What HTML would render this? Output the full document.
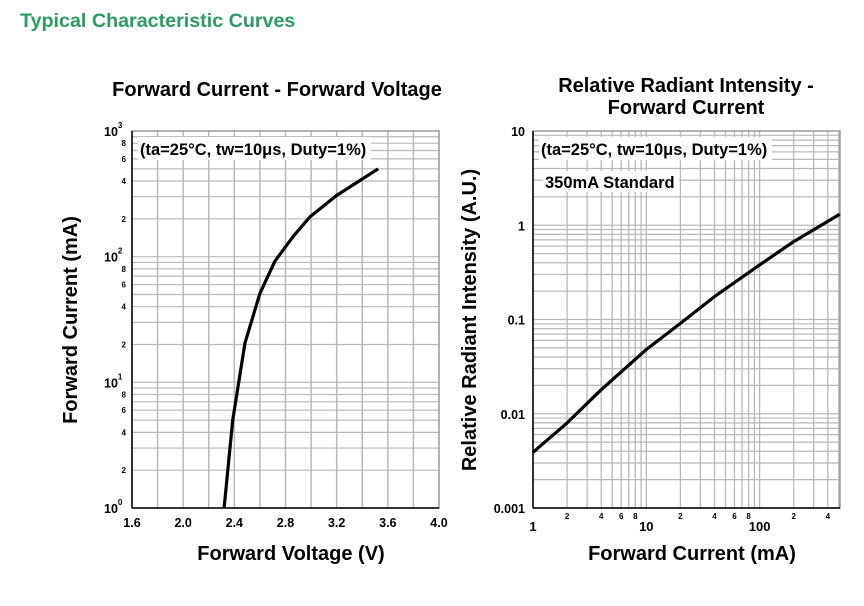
<!DOCTYPE html>
<html><head><meta charset="utf-8"><style>
body{margin:0;background:#fff;width:864px;height:601px;overflow:hidden}
svg{font-family:"Liberation Sans",Arial,sans-serif}
</style></head><body>
<svg id="s" width="864" height="601" viewBox="0 0 864 601">
<text x="20" y="27" font-size="19.7" font-weight="bold" fill="#2e9a66">Typical Characteristic Curves</text>
<text x="277" y="96" text-anchor="middle" font-size="20" font-weight="bold">Forward Current - Forward Voltage</text>
<text x="686" y="92" text-anchor="middle" font-size="20" font-weight="bold">Relative Radiant Intensity -</text>
<text x="686" y="114" text-anchor="middle" font-size="20" font-weight="bold">Forward Current</text>
<text x="291" y="560" text-anchor="middle" font-size="20" font-weight="bold">Forward Voltage (V)</text>
<text x="692" y="560" text-anchor="middle" font-size="20" font-weight="bold">Forward Current (mA)</text>
<text transform="translate(77,320) rotate(-90)" text-anchor="middle" font-size="20" font-weight="bold">Forward Current (mA)</text>
<text transform="translate(476,320) rotate(-90)" text-anchor="middle" font-size="20" font-weight="bold">Relative Radiant Intensity (A.U.)</text>
<g id="L"></g><g id="R"></g>
</svg>
<script>
// Left chart data
const vfVolts=[2.32,2.387,2.483,2.6,2.717,2.86,2.99,3.2,3.525];
const vfCurrent=[1,5.0,20.6,51,92,145,207,307,500];
const vfXTicks=[1.6,2.0,2.4,2.8,3.2,3.6,4.0];
// Right chart data
const ifCurrent=[1,2,4,10,20,40,100,200,509];
const ifIntensity=[0.0039,0.008,0.018,0.048,0.091,0.175,0.38,0.67,1.31];
const ifYTicks=["0.001","0.01","0.1","1","10"];

const NS="http://www.w3.org/2000/svg";
function mk(p,t,a){const e=document.createElementNS(NS,t);for(const k in a)e.setAttribute(k,a[k]);p.appendChild(e);return e;}
const L=document.getElementById('L'),R=document.getElementById('R');

// Left axes
const lx0=132,lx1=439,ly0=508,ly1=131;
const lX=v=>lx0+(v-1.6)/2.4*(lx1-lx0);
const lY=i=>ly0-Math.log10(i)/3*(ly0-ly1);
for(let v=1.8;v<4.0;v+=0.2){const l=mk(L,'line',{x1:lX(v),x2:lX(v),y1:ly1,y2:ly0,stroke:'#b8b8b8','stroke-width':1.5});}
for(let d=0;d<3;d++)for(let m=1;m<10;m++){if(d==0&&m==1)continue;const y=lY(m*Math.pow(10,d));const l=mk(L,'line',{x1:lx0,x2:lx1,y1:y,y2:y,stroke:'#b8b8b8','stroke-width':1.2});}
mk(L,'rect',{x:lx0,y:ly1,width:lx1-lx0,height:ly0-ly1,fill:'none',stroke:'#999','stroke-width':1.5});
mk(L,'line',{x1:lx0,x2:lx0,y1:ly1,y2:ly0,stroke:'#000','stroke-width':1.5});
mk(L,'line',{x1:lx0,x2:lx1,y1:ly0,y2:ly0,stroke:'#000','stroke-width':1.5});
vfXTicks.forEach(v=>{const t=mk(L,'text',{x:lX(v),y:527,'text-anchor':'middle','font-size':12.5,'font-weight':'bold'});t.textContent=v.toFixed(1);});
for(let d=0;d<=3;d++){const y=lY(Math.pow(10,d));const t=mk(L,'text',{x:104,y:y+5,'font-size':12.5,'font-weight':'bold'});t.textContent='10';mk(t,'tspan',{dy:-8,'font-size':8}).textContent=d;
 if(d<3)[2,4,6,8].forEach(m=>{const s=mk(L,'text',{x:126,y:lY(m*Math.pow(10,d))+3,'text-anchor':'end','font-size':8,'font-weight':'bold'});s.textContent=m;});}
mk(L,'rect',{x:138,y:137,width:233,height:23,fill:'#fff'});
const la=mk(L,'text',{x:140,y:155,'font-size':16.5,'font-weight':'bold'});la.textContent='(ta=25°C, tw=10μs, Duty=1%)';
const lp=mk(L,'path',{d:vfVolts.map((v,i)=>(i?'L':'M')+lX(v).toFixed(1)+','+lY(vfCurrent[i]).toFixed(1)).join(''),fill:'none',stroke:'#000','stroke-width':3.2,'stroke-linejoin':'round'});


// Right axes
const rx0=533,rx1=840,ry0=508,ry1=131;
const rX=i=>rx0+Math.log10(i)*113.3;
const rY=v=>ry0-(Math.log10(v)+3)/4*(ry0-ry1);
for(let d=0;d<3;d++)for(let m=1;m<10;m++){const x=rX(m*Math.pow(10,d));if(x>=rx1||(d==0&&m==1))continue;const l=mk(R,'line',{x1:x,x2:x,y1:ry1,y2:ry0,stroke:'#b8b8b8','stroke-width':1.3});}
for(let d=-3;d<1;d++)for(let m=1;m<10;m++){if(d==-3&&m==1)continue;const y=rY(m*Math.pow(10,d));const l=mk(R,'line',{x1:rx0,x2:rx1,y1:y,y2:y,stroke:'#b8b8b8','stroke-width':1.2});}
mk(R,'rect',{x:rx0,y:ry1,width:rx1-rx0,height:ry0-ry1,fill:'none',stroke:'#999','stroke-width':1.5});
mk(R,'line',{x1:rx0,x2:rx0,y1:ry1,y2:ry0,stroke:'#000','stroke-width':1.5});
mk(R,'line',{x1:rx0,x2:rx1,y1:ry0,y2:ry0,stroke:'#000','stroke-width':1.5});
ifYTicks.forEach((s,k)=>{const t=mk(R,'text',{x:525,y:rY(Math.pow(10,k-3))+5,'text-anchor':'end','font-size':12.5,'font-weight':'bold'});t.textContent=s;});
[[1,'1'],[10,'10'],[100,'100']].forEach(([v,s])=>{const t=mk(R,'text',{x:rX(v),y:531,'text-anchor':'middle','font-size':13,'font-weight':'bold'});t.textContent=s;});
[1,10,100].forEach(d=>[2,4,6,8].forEach(m=>{if(m*d>500)return;const t=mk(R,'text',{x:rX(m*d),y:519,'text-anchor':'middle','font-size':8,'font-weight':'bold'});t.textContent=m;}));
mk(R,'rect',{x:539,y:137,width:233,height:23,fill:'#fff'});
const ra=mk(R,'text',{x:541,y:155,'font-size':16.5,'font-weight':'bold'});ra.textContent='(ta=25°C, tw=10μs, Duty=1%)';
mk(R,'rect',{x:543,y:171,width:136,height:21,fill:'#fff'});
const rs=mk(R,'text',{x:545,y:188,'font-size':16.5,'font-weight':'bold'});rs.textContent='350mA Standard';
const rp=mk(R,'path',{d:ifCurrent.map((v,i)=>(i?'L':'M')+rX(v).toFixed(1)+','+rY(ifIntensity[i]).toFixed(1)).join(''),fill:'none',stroke:'#000','stroke-width':3.2,'stroke-linejoin':'round'});

</script>
</body></html>
